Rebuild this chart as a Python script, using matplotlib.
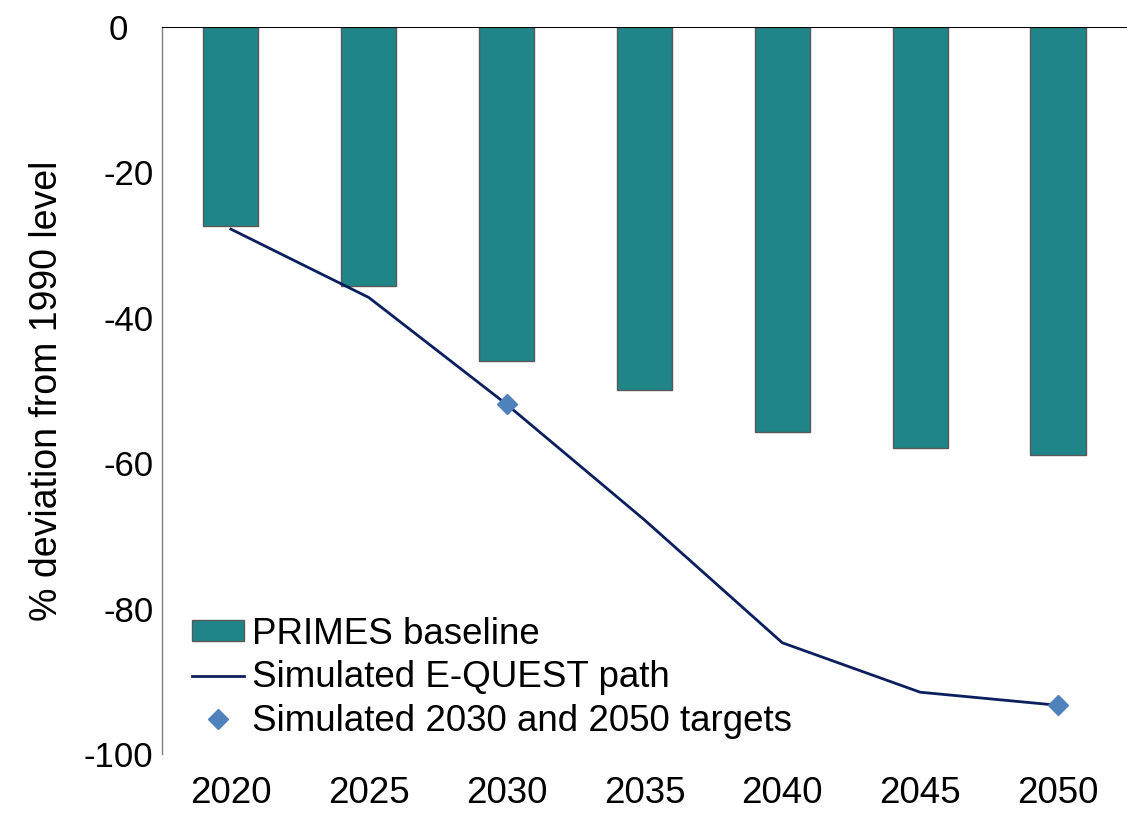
import matplotlib
matplotlib.use("Agg")
import matplotlib.pyplot as plt
from matplotlib.lines import Line2D
from matplotlib.patches import Patch
from matplotlib.transforms import ScaledTranslation

plt.rcParams['font.family'] = ['Liberation Sans', 'DejaVu Sans']
plt.rcParams['axes.unicode_minus'] = False

years = ["2020", "2025", "2030", "2035", "2040", "2045", "2050"]
primes_baseline = [-27.4, -35.6, -45.9, -49.9, -55.7, -57.9, -58.9]
equest_path = [-27.8, -37.2, -51.9, -67.8, -84.7, -91.5, -93.3]
target_years = ["2030", "2050"]
target_values = [-51.9, -93.3]
y_ticks = [0, -20, -40, -60, -80, -100]

bar_color = "#1F8589"
line_color = "#0B1F5E"
marker_color = "#4F81BD"

fig = plt.figure(figsize=(11.27, 8.14), dpi=100)
ax = fig.add_axes([0.1437, 0.0737, 0.8563, 0.8931])

x = list(range(len(years)))
ax.bar(x, primes_baseline, width=0.4, color=bar_color, edgecolor="#595959",
       linewidth=1.0, zorder=2)
ax.plot(x, equest_path, color=line_color, linewidth=2.0, zorder=3)
tx = [years.index(y) for y in target_years]
ax.plot(tx, target_values, linestyle="none", marker="D", markersize=10,
        color=marker_color, zorder=4)

ax.axhline(0, color="black", linewidth=1.5, zorder=5)

ax.set_xlim(-0.5, len(years) - 0.5)
ax.set_ylim(-100, 0)
ax.set_yticks(y_ticks)
ax.set_yticklabels([str(v) for v in y_ticks])
ax.set_xticks(x)
ax.set_xticklabels(years)

for side in ("top", "right", "bottom"):
    ax.spines[side].set_visible(False)
ax.spines["left"].set_color("#808080")
ax.spines["left"].set_linewidth(1.0)

ax.tick_params(axis="x", length=0, pad=16, labelsize=26.5)
ax.tick_params(axis="y", length=0, pad=6, labelsize=25)
ax.set_ylabel("% deviation from 1990 level", fontsize=27, labelpad=14)

# the zero label sits a little further left than the others
fig.canvas.draw()
zero_label = ax.get_yticklabels()[0]
zero_label.set_transform(zero_label.get_transform()
                         + ScaledTranslation(-26 / 100, 0, fig.dpi_scale_trans))

handles = [
    Patch(facecolor=bar_color, edgecolor="#595959", linewidth=1.0),
    Line2D([0], [0], color=line_color, linewidth=2.0),
    Line2D([0], [0], linestyle="none", marker="D", markersize=10, color=marker_color),
]
labels = ["PRIMES baseline", "Simulated E-QUEST path", "Simulated 2030 and 2050 targets"]
ax.legend(handles, labels, loc="lower left", bbox_to_anchor=(0.016, 0.0),
          frameon=False, fontsize=26.5, handlelength=1.41, handleheight=0.52,
          handletextpad=0.22, labelspacing=0.24, borderaxespad=0.0)

fig.savefig("out.png", dpi=100)
